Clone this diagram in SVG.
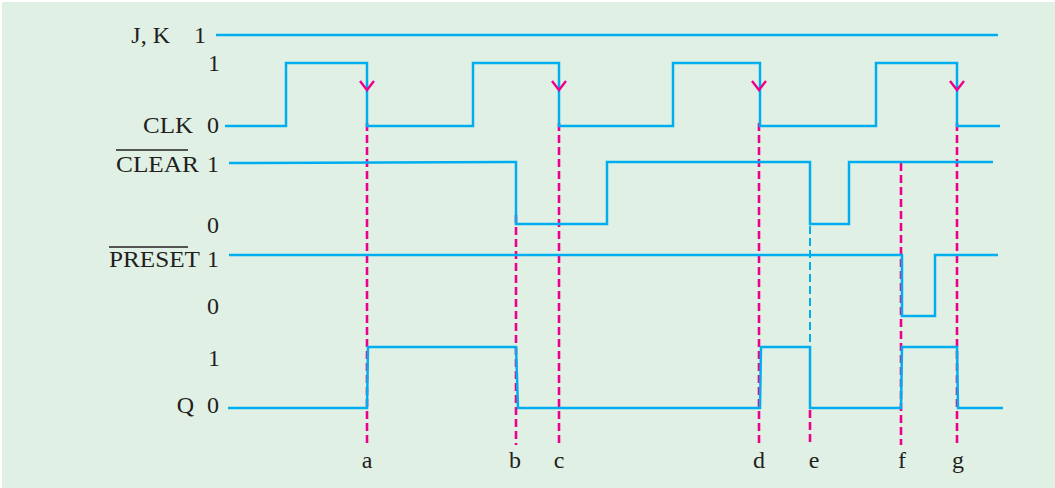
<svg xmlns="http://www.w3.org/2000/svg" width="1055" height="488" viewBox="0 0 1055 488">
<style>
.bg{fill:#ffffff}
.panel{fill:#e1f0e5}
.sig{fill:none;stroke:#00aeef;stroke-width:2.5;stroke-linejoin:miter}
.bd{fill:none;stroke:#00aeef;stroke-width:2;stroke-dasharray:8 4}
.md{fill:none;stroke:#ec008c;stroke-width:2.6;stroke-dasharray:8 4}
.arr{fill:none;stroke:#ec008c;stroke-width:2.4}
.t{font-family:"Liberation Serif","Times New Roman",serif;font-size:24px;fill:#231f20}
.ol{stroke:#231f20;stroke-width:1.3}
</style>
<rect class="bg" x="0" y="0" width="1055" height="488"/>
<rect class="panel" x="2" y="2" width="1053" height="486"/>

<g id="labels">
<text class="t" x="170" y="43" text-anchor="end">J, K</text>
<text class="t" x="200" y="43" text-anchor="middle">1</text>
<text class="t" x="214" y="71" text-anchor="middle">1</text>
<text class="t" x="193" y="133" text-anchor="end" textLength="50" lengthAdjust="spacingAndGlyphs">CLK</text>
<text class="t" x="213" y="133" text-anchor="middle">0</text>
<text class="t" x="116" y="172" textLength="83" lengthAdjust="spacingAndGlyphs">CLEAR</text>
<line class="ol" x1="116" y1="150" x2="188" y2="150"/>
<text class="t" x="213" y="172" text-anchor="middle">1</text>
<text class="t" x="213" y="233" text-anchor="middle">0</text>
<text class="t" x="109" y="267" textLength="91" lengthAdjust="spacingAndGlyphs">PRESET</text>
<line class="ol" x1="109" y1="247" x2="188" y2="247"/>
<text class="t" x="213" y="267" text-anchor="middle">1</text>
<text class="t" x="213" y="314" text-anchor="middle">0</text>
<text class="t" x="214" y="366" text-anchor="middle">1</text>
<text class="t" x="194" y="413" text-anchor="end">Q</text>
<text class="t" x="213" y="413" text-anchor="middle">0</text>
<text class="t" x="367" y="468" text-anchor="middle">a</text>
<text class="t" x="515" y="468" text-anchor="middle">b</text>
<text class="t" x="559" y="468" text-anchor="middle">c</text>
<text class="t" x="759" y="468" text-anchor="middle">d</text>
<text class="t" x="814" y="468" text-anchor="middle">e</text>
<text class="t" x="902" y="468" text-anchor="middle">f</text>
<text class="t" x="958" y="468" text-anchor="middle">g</text>
</g>

<g id="markers">
<line class="md" x1="367" y1="123" x2="367" y2="445"/>
<line class="md" x1="516" y1="215" x2="516" y2="445"/>
<line class="md" x1="559" y1="123" x2="559" y2="445"/>
<line class="md" x1="759" y1="123" x2="759" y2="445"/>
<line class="md" x1="810" y1="410" x2="810" y2="445"/>
<line class="md" x1="901" y1="163" x2="901" y2="445"/>
<line class="md" x1="957" y1="123" x2="957" y2="445"/>
</g>

<g id="jk">
<polyline class="sig" points="216,35 998,35"/>
</g>

<g id="clk">
<polyline class="sig" points="225,126 286,126 286,63 367,63 367,126 473,126 473,63 559,63 559,126 673,126 673,63 760,63 760,126 876,126 876,63 957,63 957,126 1000,126"/>
<polyline class="arr" points="360,81 367,90 374,81"/>
<polyline class="arr" points="552,81 559,90 566,81"/>
<polyline class="arr" points="752,81 759,90 766,81"/>
<polyline class="arr" points="950,81 957,90 964,81"/>
</g>

<g id="clear">
<polyline class="sig" points="229,163 516,162 516,224 607,224 607,162 810,162 810,224 849,224 849,162 993,162"/>
<line class="bd" x1="810" y1="226" x2="810" y2="346"/>
</g>

<g id="preset">
<polyline class="sig" points="229,255 902,255 902,316 935,316 935,255 998,255"/>
</g>

<g id="q">
<polyline class="sig" points="228,408 367,408 368,347 516,347 518,408 760,408 761,347 810,347 810,408 901,408 902,347 957,347 958,408 1003,408"/>
</g>
</svg>
